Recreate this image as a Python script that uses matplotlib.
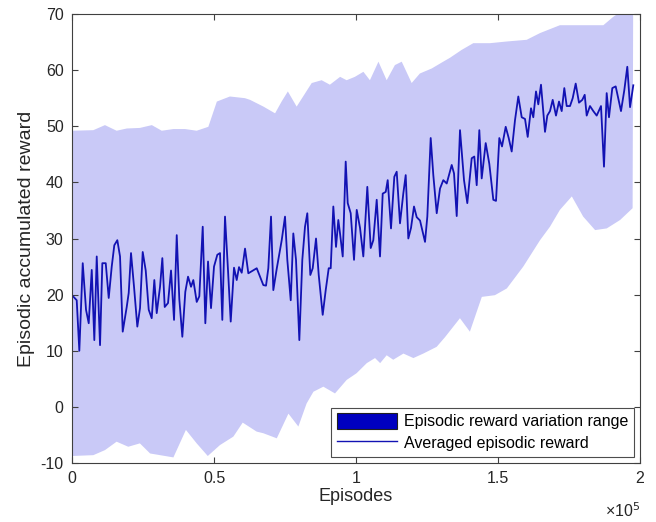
import numpy as np
import matplotlib
matplotlib.use("Agg")
import matplotlib.pyplot as plt
from matplotlib.patches import Patch
from matplotlib.lines import Line2D

plt.rcParams['font.family'] = ['Liberation Sans', 'DejaVu Sans']
plt.rcParams['axes.unicode_minus'] = False

# averaged episodic reward (episodes in thousands)
ep_avg = [0, 1.65, 2.57, 3.77, 4.93, 5.88, 6.94, 7.85, 8.70, 9.86,
          10.67, 11.87, 12.92, 13.98, 14.89, 15.95, 16.90, 17.85, 19.26, 19.96,
          20.77, 21.83, 22.99, 23.94, 24.89, 25.95, 27.01, 28.06, 28.98, 29.82,
          30.99, 31.80, 32.64, 33.80, 34.86, 35.92, 36.87, 37.78, 38.84, 39.89,
          40.85, 41.90, 42.71, 43.91, 44.82, 46.02, 46.94, 47.89, 48.94, 50.00,
          51.16, 52.11, 52.92, 53.87, 54.93, 55.88, 57.04, 57.99, 58.80, 59.75,
          60.92, 62.08, 65.04, 66.20, 67.36, 68.31, 69.12, 70.07, 70.88, 72.08,
          73.84, 75.00, 75.81, 77.01, 77.92, 78.87, 80.04, 81.09, 82.04, 82.85,
          83.91, 84.75, 85.92, 86.87, 88.27, 89.33, 90.39, 91.09, 92.01, 92.96,
          93.77, 94.37, 95.32, 96.37, 97.08, 98.13, 99.30, 100.25, 101.41, 102.57,
          103.98, 105.18, 106.09, 107.29, 108.45, 109.40, 110.46, 111.16, 112.32, 113.49,
          114.33, 115.49, 116.65, 117.50, 118.42, 119.37, 120.42, 121.37, 122.54, 124.30,
          125.11, 126.30, 127.22, 128.42, 129.58, 130.74, 131.94, 133.70, 134.51, 135.46,
          136.62, 138.03, 139.19, 140.74, 141.65, 142.50, 143.42, 144.26, 145.67, 146.94,
          148.35, 149.30, 150.46, 151.41, 152.71, 153.77, 154.82, 155.99, 157.15, 158.35,
          159.51, 160.46, 161.62, 162.43, 163.38, 164.19, 165.14, 166.55, 167.36, 168.31,
          169.26, 170.42, 171.48, 172.43, 173.35, 174.19, 175.35, 176.30, 177.36, 178.52,
          179.68, 180.53, 181.23, 182.39, 183.56, 184.75, 186.27, 187.32, 188.27, 189.08,
          190.25, 191.44, 193.31, 194.47, 195.53, 196.50, 197.64]
reward_avg = [19.9, 19.0, 10.0, 25.6, 17.3, 14.9, 24.4, 11.9, 26.8, 11.0,
              25.6, 25.6, 19.4, 25.0, 28.8, 29.7, 26.8, 13.4, 17.8, 20.3,
              27.4, 21.4, 14.3, 17.6, 27.6, 24.3, 17.3, 15.8, 22.6, 16.7,
              21.4, 26.5, 17.8, 18.5, 24.3, 15.5, 30.6, 19.2, 12.5, 20.5,
              23.2, 21.4, 22.6, 18.7, 19.7, 32.1, 14.9, 25.9, 17.6, 25.0,
              27.1, 27.4, 15.5, 33.9, 24.3, 15.2, 24.8, 22.6, 24.9, 23.9,
              28.2, 23.8, 24.7, 23.2, 21.7, 21.6, 24.7, 33.9, 20.8, 24.6,
              29.7, 33.9, 26.2, 19.0, 30.9, 26.2, 11.9, 26.2, 32.1, 34.5,
              23.5, 24.7, 30.0, 23.5, 16.4, 20.8, 24.7, 24.7, 35.7, 28.5,
              33.3, 30.9, 26.8, 43.7, 36.3, 34.5, 26.2, 35.1, 31.9, 26.8,
              39.2, 28.3, 29.7, 36.9, 26.8, 38.0, 38.3, 40.4, 31.8, 41.0,
              41.9, 32.7, 38.0, 41.3, 30.0, 31.9, 35.7, 33.8, 33.2, 29.4,
              33.9, 47.9, 41.3, 34.5, 38.9, 40.4, 39.8, 43.1, 41.6, 34.0,
              49.3, 40.4, 36.3, 44.3, 44.6, 39.5, 49.3, 40.7, 47.0, 43.3,
              36.9, 36.7, 47.9, 46.4, 49.9, 47.9, 45.5, 51.1, 55.3, 51.6,
              51.3, 48.1, 53.2, 51.6, 56.2, 53.9, 57.4, 49.0, 51.9, 52.7,
              54.7, 51.9, 54.4, 52.7, 56.8, 53.6, 53.6, 55.0, 57.6, 54.2,
              54.7, 55.6, 51.9, 53.6, 52.7, 51.9, 53.6, 42.8, 55.9, 51.6,
              56.8, 57.1, 52.7, 56.4, 60.6, 53.4, 57.3]

# upper / lower edge of the variation range
ep_upper = [0, 7.5, 11.6, 15.7, 19.3, 23.9, 28.1, 31.6, 35.7, 39.8,
            43.9, 48.0, 51.0, 55.6, 60.9, 62.7, 67.4, 71.5, 73.8, 76.0,
            79.1, 84.4, 87.9, 90.8, 94.4, 96.7, 99.6, 102.6, 104.9, 107.9,
            110.8, 113.7, 116.1, 119.6, 122.5, 126.7, 130.7, 133.1, 137.2, 141.3,
            147.2, 153.1, 160.1, 164.8, 171.8, 187.1, 190.6, 193.6, 197.6]
reward_upper = [49.2, 49.3, 50.2, 49.2, 49.6, 49.7, 50.2, 49.2, 49.5, 49.5,
                49.2, 49.9, 54.4, 55.3, 55.0, 54.7, 53.5, 52.3, 54.4, 56.2,
                53.5, 57.7, 58.2, 57.4, 58.8, 58.2, 58.8, 59.7, 58.2, 61.5,
                58.2, 60.9, 61.5, 57.7, 59.4, 60.3, 61.5, 62.2, 63.6, 64.8,
                64.8, 65.1, 65.4, 66.6, 68.0, 68.0, 69.5, 70.5, 72.0]
ep_lower = [0, 7.5, 11.6, 15.7, 19.8, 23.9, 27.5, 35.7, 40.1, 43.9,
            47.8, 52.1, 56.8, 60.1, 65.0, 67.4, 72.1, 76.2, 79.7, 82.6,
            85.0, 88.5, 92.6, 96.7, 100.2, 103.8, 106.7, 108.5, 110.8, 113.1,
            116.7, 120.2, 123.7, 128.4, 131.3, 136.6, 140.1, 144.3, 148.9, 153.1,
            158.9, 164.8, 168.3, 171.8, 176.0, 180.0, 184.2, 188.3, 193.0, 197.4]
reward_lower = [-8.75, -8.6, -7.7, -6.2, -7.1, -6.5, -8.3, -9.0, -4.1, -6.5,
                -8.75, -6.8, -5.3, -2.8, -4.4, -4.7, -5.6, -1.2, -3.5, 0.6,
                2.7, 3.6, 2.4, 4.8, 6.0, 7.8, 8.7, 7.8, 9.2, 8.4,
                9.5, 8.7, 9.5, 10.7, 12.4, 15.8, 13.4, 19.6, 19.9, 21.1,
                25.0, 29.7, 32.1, 35.1, 37.5, 33.9, 31.5, 31.8, 33.3, 35.4]

xticks = [0, 0.5e5, 1e5, 1.5e5, 2e5]
xtick_labels = ['0', '0.5', '1', '1.5', '2']
yticks = [-10, 0, 10, 20, 30, 40, 50, 60, 70]

x_avg = np.array(ep_avg) * 1000
x_up = np.array(ep_upper) * 1000
x_lo = np.array(ep_lower) * 1000

fig = plt.figure(figsize=(6.56, 5.22), dpi=100)
ax = fig.add_axes([0.1098, 0.113, 0.8658, 0.8602])

band_color = (0.79, 0.79, 0.97)
line_color = (0.07, 0.07, 0.70)

# band polygon: upper edge forward, lower edge backward
poly_x = np.concatenate([x_up, x_lo[::-1]])
poly_y = np.concatenate([reward_upper, reward_lower[::-1]])
ax.fill(poly_x, poly_y, color=band_color, lw=0)
ax.plot(x_avg, reward_avg, color=line_color, lw=1.3)

ax.set_xlim(0, 2e5)
ax.set_ylim(-10, 70)
ax.set_xticks(xticks)
ax.set_xticklabels(xtick_labels)
ax.set_yticks(yticks)
ax.tick_params(direction='in', top=True, right=True, labelsize=11.5,
               color='#404040', labelcolor='#262626', length=4, pad=6)
for s in ax.spines.values():
    s.set_color('#404040')
    s.set_linewidth(0.8)

ax.set_xlabel('Episodes', fontsize=13, labelpad=1, color='#262626')
ax.set_ylabel('Episodic accumulated reward', fontsize=14, labelpad=4,
              color='#262626')
ax.text(1.0, -0.085, '×10$^5$', transform=ax.transAxes, ha='right', va='top',
        fontsize=11.5, color='#262626')

handles = [Patch(facecolor=(0.0, 0.0, 0.75), edgecolor='#202020', lw=0.8),
           Line2D([], [], color=line_color, lw=1.0)]
leg = ax.legend(handles, ['Episodic reward variation range', 'Averaged episodic reward'],
                loc='lower right', fontsize=11.5, frameon=True, fancybox=False,
                borderpad=0.35, handlelength=3.8, handleheight=1.1,
                handletextpad=0.4, labelspacing=0.35, borderaxespad=0.4)
leg.get_frame().set_edgecolor('#202020')
leg.get_frame().set_linewidth(0.8)

fig.savefig('out.png', dpi=100)
